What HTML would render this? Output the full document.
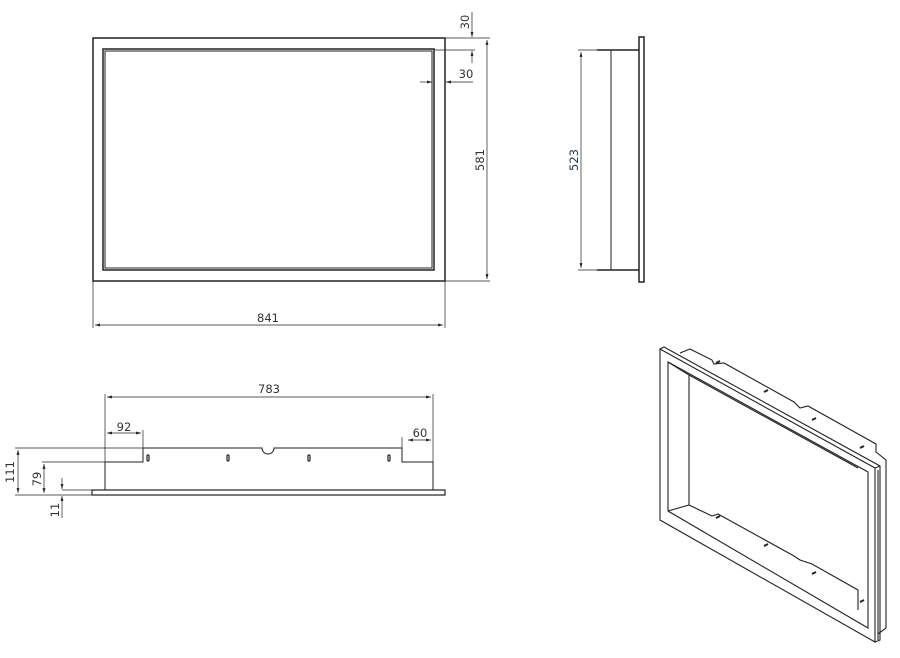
<!DOCTYPE html>
<html><head><style>body{margin:0;background:#fff}svg{display:block}text{font-family:"DejaVu Sans","Liberation Sans",sans-serif;font-size:11.5px;font-weight:normal;fill:#333;stroke:none}</style></head><body>
<svg width="900" height="658" viewBox="0 0 900 658" fill="none" stroke="#222" stroke-width="1">
<defs><marker id="a" viewBox="0 0 10 10" refX="10" refY="5" markerWidth="7" markerHeight="7" orient="auto-start-reverse"><path d="M0,2L10,5L0,8z" fill="#222" stroke="none"/></marker></defs>
<!-- front view -->
<rect x="93" y="38" width="352" height="243" stroke-width="1.5"/>
<rect x="103" y="49" width="331" height="221" stroke-width="1.5"/>
<rect x="105" y="51" width="327" height="217"/>
<line x1="445" y1="38" x2="490" y2="38" stroke-width=".7"/>
<line x1="445" y1="281" x2="490" y2="281" stroke-width=".7"/>
<line x1="487" y1="40" x2="487" y2="279" marker-start="url(#a)" marker-end="url(#a)" stroke-width=".7"/>
<text transform="translate(484,160) rotate(-90)" text-anchor="middle">581</text>
<line x1="93" y1="281" x2="93" y2="328" stroke-width=".7"/>
<line x1="445" y1="281" x2="445" y2="328" stroke-width=".7"/>
<line x1="95" y1="325" x2="443" y2="325" marker-start="url(#a)" marker-end="url(#a)" stroke-width=".7"/>
<text x="268" y="322" text-anchor="middle">841</text>
<line x1="434" y1="50" x2="475" y2="50" stroke-width=".7"/>
<line x1="472" y1="12" x2="472" y2="37" marker-end="url(#a)" stroke-width=".7"/>
<line x1="472" y1="63" x2="472" y2="51" marker-end="url(#a)" stroke-width=".7"/>
<text transform="translate(469,22) rotate(-90)" text-anchor="middle">30</text>
<line x1="420" y1="82" x2="432" y2="82" marker-end="url(#a)" stroke-width=".7"/>
<line x1="473" y1="82" x2="446" y2="82" marker-end="url(#a)" stroke-width=".7"/>
<text x="466" y="78" text-anchor="middle">30</text>
<!-- side view -->
<rect x="639" y="37" width="5" height="245" stroke-width="1.5"/>
<line x1="597" y1="50" x2="639" y2="50" stroke-width="1.5"/>
<line x1="597" y1="270" x2="639" y2="270" stroke-width="1.5"/>
<line x1="611" y1="50" x2="611" y2="270"/>
<line x1="578" y1="50" x2="597" y2="50" stroke-width=".7"/>
<line x1="578" y1="270" x2="597" y2="270" stroke-width=".7"/>
<line x1="581" y1="52" x2="581" y2="268" marker-start="url(#a)" marker-end="url(#a)" stroke-width=".7"/>
<text transform="translate(578,160) rotate(-90)" text-anchor="middle" style="fill:#234">523</text>
<!-- bottom view -->
<rect x="92" y="490" width="353" height="5" stroke-width="1.2"/>
<path d="M105,490V462H143V448H262A6,6 0 0 0 274,448H402V462H433V490"/>
<line x1="105" y1="394" x2="105" y2="490" stroke-width=".7"/>
<line x1="433" y1="394" x2="433" y2="462" stroke-width=".7"/>
<line x1="107" y1="397" x2="431" y2="397" marker-start="url(#a)" marker-end="url(#a)" stroke-width=".7"/>
<text x="269" y="393" text-anchor="middle">783</text>
<line x1="143" y1="430" x2="143" y2="448" stroke-width=".7"/>
<line x1="107" y1="433" x2="141" y2="433" marker-start="url(#a)" marker-end="url(#a)" stroke-width=".7"/>
<text x="124" y="431" text-anchor="middle">92</text>
<line x1="408" y1="440" x2="431" y2="440" marker-start="url(#a)" marker-end="url(#a)" stroke-width=".7"/>
<line x1="402" y1="437" x2="402" y2="448" stroke-width=".7"/>
<text x="420" y="437" text-anchor="middle">60</text>
<g stroke-width="1.2"><rect x="147" y="455" width="2" height="6" rx="1"/><rect x="227" y="455" width="2" height="6" rx="1"/><rect x="308" y="455" width="2" height="6" rx="1"/><rect x="388" y="455" width="2" height="6" rx="1"/></g>
<line x1="15" y1="448" x2="143" y2="448" stroke-width=".7"/>
<line x1="42" y1="462" x2="105" y2="462" stroke-width=".7"/>
<line x1="15" y1="495" x2="92" y2="495" stroke-width=".7"/>
<line x1="62" y1="490" x2="92" y2="490" stroke-width=".7"/>
<line x1="18" y1="450" x2="18" y2="493" marker-start="url(#a)" marker-end="url(#a)" stroke-width=".7"/>
<text transform="translate(14,472) rotate(-90)" text-anchor="middle">111</text>
<line x1="44" y1="464" x2="44" y2="493" marker-start="url(#a)" marker-end="url(#a)" stroke-width=".7"/>
<text transform="translate(41,479) rotate(-90)" text-anchor="middle">79</text>
<line x1="62" y1="478" x2="62" y2="489" marker-end="url(#a)" stroke-width=".7"/>
<line x1="62" y1="518" x2="62" y2="496" marker-end="url(#a)" stroke-width=".7"/>
<text transform="translate(59,510) rotate(-90)" text-anchor="middle">11</text>
<!-- iso view -->
<g stroke-width="1.1">
<path d="M680,353L690,349L712,360L714,364L724,363L794,402L800,408L808,406L876,444L876,452L886,460L886,628L878,634"/>
<path d="M660,349L875,468L875,642L660,520Z" fill="#fff"/>
<path d="M660,349L664,347L880,466L880,640L875,642"/>
<line x1="875" y1="468" x2="880" y2="466"/>
<path d="M668,362L868,472L868,628L668,511Z"/>
<path d="M668,362L689,375L689,505L668,511"/>
<path d="M689,505L712,516L718,514L794,556L800,560L812,564L858,590L858,610"/>
<path d="M689,375L858,468"/>
<path d="M878,470L878,640"/>
<g stroke-width="2"><line x1="716" y1="363" x2="720" y2="361"/><line x1="764" y1="392" x2="768" y2="390"/><line x1="812" y1="420" x2="816" y2="418"/><line x1="860" y1="448" x2="864" y2="446"/>
<line x1="716" y1="518" x2="720" y2="516"/><line x1="764" y1="546" x2="768" y2="544"/><line x1="812" y1="574" x2="816" y2="572"/><line x1="860" y1="602" x2="864" y2="600"/></g>
</g>
</svg>
</body></html>
